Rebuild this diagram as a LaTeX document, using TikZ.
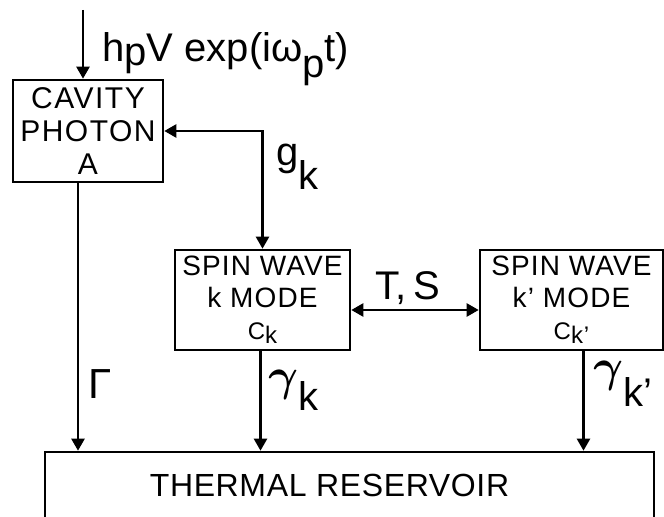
\documentclass[tikz,border=0pt]{standalone}
\usepackage{graphicx}
\usepackage{fontspec}
\setmainfont{Liberation Sans}
\usepackage{tikz}
\usetikzlibrary{arrows.meta}
\tikzset{
  ar/.style={-{Triangle[length=6pt,width=6.5pt]},line width=1.2pt},
  dar/.style={{Triangle[length=6pt,width=6.5pt]}-{Triangle[length=6pt,width=6.5pt]},line width=1.2pt},
  box/.style={draw,line width=1.3pt,align=center,inner sep=0pt},
  lbl/.style={font=\fontsize{20}{24}\selectfont,inner sep=0pt}
}
\newcommand{\lowr}[2][0.5em]{\raisebox{-#1}{#2}}
\newcommand{\smallc}[1]{{\fontsize{12}{13}\selectfont C\lowr[0.15em]{#1}}}
\newcommand{\gam}{\scalebox{1.1}{\boldmath$\gamma$}}
\newcommand{\spaced}[1]{\addfontfeatures{LetterSpace=#1}}

\begin{document}
\begin{tikzpicture}[x=0.5pt,y=-0.5pt]
\useasboundingbox (0,0) rectangle (664,517);
% boxes
\node[box,minimum width=75pt,minimum height=51pt,font=\fontsize{15}{16.3}\selectfont\spaced{5}] (cav) at (88,131) {CAVITY\\PHOTON\\A};
\node[box,minimum width=87.5pt,minimum height=50pt,font=\fontsize{14}{16}\selectfont\spaced{4}] (spk) at (262.5,300) {SPIN WAVE\\k MODE\\\smallc{k}};
\node[box,minimum width=91.5pt,minimum height=50pt,font=\fontsize{14}{16}\selectfont\spaced{4}] (spkp) at (571.5,300) {SPIN WAVE\\k' MODE\\\smallc{k'}};
\node[box,minimum width=304.5pt,minimum height=33.5pt,font=\fontsize{16}{19}\selectfont\spaced{2}] (res) at (349.5,485.5) {THERMAL RESERVOIR\hspace*{20pt}};
% connectors
\coordinate (drv) at (83,10);
\draw[ar] (drv) -- (drv |- cav.north);
\draw[dar] (cav.east) -| (spk.north);
\draw[dar] ([yshift=-5pt]spk.east) -- ([yshift=-5pt]spkp.west);
\draw[ar] ([xshift=-5pt]cav.south) -- ([xshift=-5pt]cav.south |- res.north);
\draw[ar] ([xshift=-1pt]spk.south) -- ([xshift=-1pt]spk.south |- res.north);
\draw[ar] ([xshift=6pt]spkp.south) -- ([xshift=6pt]spkp.south |- res.north);
% labels
\node[lbl,anchor=base west] (drvlbl) at (102,62) {h\lowr[0.1em]{p}V exp(iω\lowr[0.4em]{p}t)};
\node[lbl,anchor=base west] (glbl) at (276,166) {g\lowr[0.6em]{k}};
\node[lbl,anchor=base west,font=\fontsize{21}{24}\selectfont] (gamlbl) at (88,399) {Γ};
\node[lbl,anchor=base west] (tslbl) at (375,300) {T,\,S};
\node[lbl,anchor=base west] (gklbl) at (268,391) {\gam\lowr[0.5em]{k}};
\node[lbl,anchor=base west] (gkplbl) at (593,382) {\gam\lowr[0.62em]{k'}};
\end{tikzpicture}
\end{document}
